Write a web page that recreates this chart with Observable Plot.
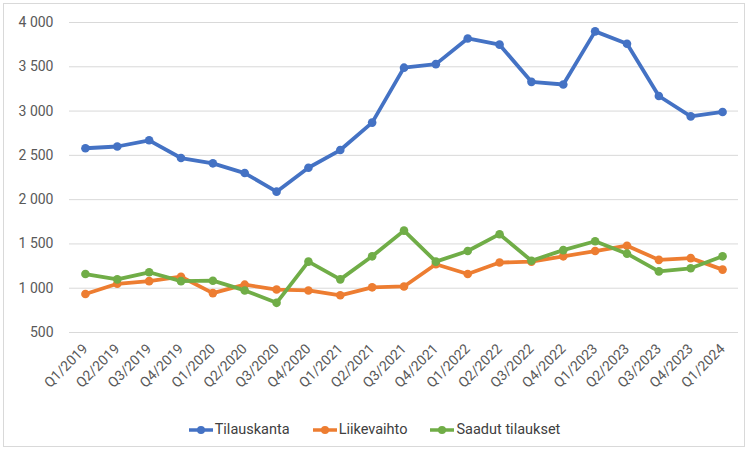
<!DOCTYPE html>
<html>
<head>
<meta charset="utf-8">
<script src="https://cdn.jsdelivr.net/npm/d3@7"></script>
<script src="https://cdn.jsdelivr.net/npm/@observablehq/plot@0.6"></script>
<style>
  html, body { margin: 0; padding: 0; background: #fff; }
  body { width: 748px; height: 451px; position: relative; overflow: hidden; font-family: Roboto, "Liberation Sans", sans-serif; }
  #frame { position: absolute; left: 3px; top: 3px; width: 742px; height: 444px; border: 1px solid #d9d9d9; box-sizing: border-box; }
  #chart { position: absolute; left: 0; top: 0; }
  #legend { position: absolute; left: 0; top: 421px; width: 748px; display: flex; justify-content: center; gap: 22px; font-size: 14.5px; color: #404040; }
  .item { display: flex; align-items: center; gap: 1px; }
</style>
</head>
<body>
<div id="frame"></div>
<div id="chart"></div>
<div id="legend"></div>
<script>
const quarters = ["Q1/2019","Q2/2019","Q3/2019","Q4/2019","Q1/2020","Q2/2020","Q3/2020","Q4/2020","Q1/2021","Q2/2021","Q3/2021","Q4/2021","Q1/2022","Q2/2022","Q3/2022","Q4/2022","Q1/2023","Q2/2023","Q3/2023","Q4/2023","Q1/2024"];
const tilauskanta = [2580,2600,2670,2470,2410,2300,2090,2360,2560,2870,3490,3530,3820,3750,3330,3300,3900,3760,3170,2940,2990];
const liikevaihto = [935,1050,1080,1130,945,1040,985,975,920,1010,1020,1270,1160,1290,1300,1360,1420,1480,1320,1340,1210];
const saadutTilaukset = [1160,1100,1180,1080,1085,975,835,1300,1100,1360,1650,1300,1420,1610,1310,1430,1530,1390,1190,1225,1360];
const seriesNames = ["Tilauskanta","Liikevaihto","Saadut tilaukset"];
const seriesColors = ["#4472C4","#ED7D31","#70AD47"];
const yTicks = [500,1000,1500,2000,2500,3000,3500,4000];

const seriesValues = [tilauskanta, liikevaihto, saadutTilaukset];
const data = [];
seriesNames.forEach((name, i) => {
  quarters.forEach((q, j) => data.push({series: name, quarter: q, value: seriesValues[i][j]}));
});
const fmt = d => d3.format(",")(d).replace(/,/g, " ");

const chart = Plot.plot({
  width: 748,
  height: 418,
  marginLeft: 69,
  marginRight: 10,
  marginTop: 22,
  marginBottom: 86,
  style: {fontFamily: "Roboto, 'Liberation Sans', sans-serif", fontSize: "13px", color: "#595959", background: "transparent"},
  x: {type: "point", domain: quarters, padding: 0.5, round: false, label: null},
  y: {domain: [500, 4000], label: null},
  color: {domain: seriesNames, range: seriesColors},
  marks: [
    Plot.gridY(yTicks, {stroke: "#d9d9d9", strokeOpacity: 1, strokeWidth: 1}),
    Plot.axisY(yTicks, {tickSize: 0, tickPadding: 16, tickFormat: fmt, fontSize: 14, fill: "#595959"}),
    Plot.axisX({tickSize: 0, tickRotate: -45, tickPadding: 14, fontSize: 14, fill: "#595959"}),
    Plot.line(data, {x: "quarter", y: "value", z: "series", stroke: "series", strokeWidth: 3.8, strokeLinejoin: "round", strokeLinecap: "round"}),
    Plot.dot(data, {x: "quarter", y: "value", fill: "series", r: 4.3})
  ]
});
document.getElementById("chart").appendChild(chart);

const legend = document.getElementById("legend");
seriesNames.forEach((name, i) => {
  const item = document.createElement("div");
  item.className = "item";
  item.innerHTML = `<svg width="26" height="12"><line x1="1" y1="6" x2="25" y2="6" stroke="${seriesColors[i]}" stroke-width="3.5"/><circle cx="13" cy="6" r="4" fill="${seriesColors[i]}"/></svg><span>${name}</span>`;
  legend.appendChild(item);
});
</script>
</body>
</html>
